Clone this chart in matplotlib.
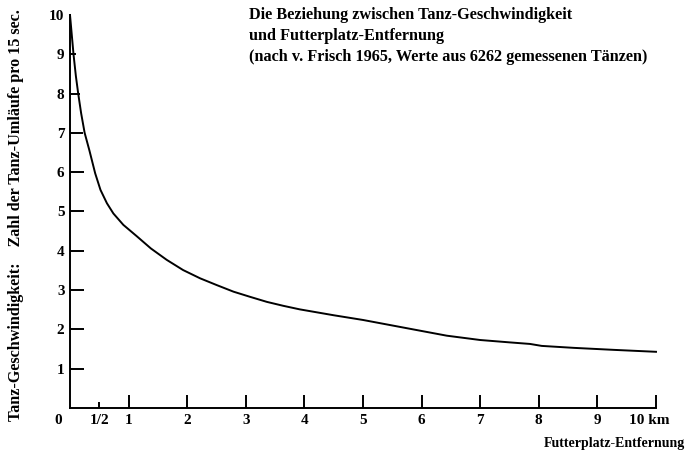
import matplotlib
matplotlib.use("Agg")
import matplotlib.pyplot as plt
from matplotlib.transforms import ScaledTranslation

plt.rcParams['font.family'] = ['Liberation Serif', 'DejaVu Serif']
plt.rcParams['font.weight'] = 'bold'

# distance to feeding place (km) and dance tempo (circuits per 15 s)
distance_km = [0.0, 0.03, 0.06, 0.1, 0.14, 0.19, 0.25, 0.33, 0.43, 0.52,
               0.63, 0.74, 0.91, 1.14, 1.38, 1.65, 1.93, 2.22, 2.5, 2.79,
               3.07, 3.36, 3.64, 3.92, 4.5, 5.0, 5.5, 6.0, 6.43, 7.0,
               7.5, 7.85, 8.05, 8.6, 9.27, 10.0]
tempo = [10.0, 9.5, 9.0, 8.45, 8.0, 7.5, 7.0, 6.56, 5.97, 5.55,
         5.21, 4.95, 4.66, 4.37, 4.06, 3.77, 3.51, 3.3, 3.13, 2.96,
         2.83, 2.7, 2.6, 2.51, 2.36, 2.24, 2.1, 1.96, 1.84, 1.73,
         1.67, 1.63, 1.58, 1.53, 1.48, 1.43]

x_ticks = [0.5, 1, 2, 3, 4, 5, 6, 7, 8, 9, 10]
x_tick_labels = ['1/2', '1', '2', '3', '4', '5', '6', '7', '8', '9', '10 km']
y_ticks = [1, 2, 3, 4, 5, 6, 7, 8, 9, 10]
y_tick_labels = [str(v) for v in y_ticks]

title_lines = ['Die Beziehung zwischen Tanz-Geschwindigkeit',
               'und Futterplatz-Entfernung',
               '(nach v. Frisch 1965, Werte aus 6262 gemessenen Tänzen)']

W, H = 695, 457
fig = plt.figure(figsize=(W / 100, H / 100), dpi=100)
ax = fig.add_axes([70 / W, 49 / H, 586 / W, 393 / H])

ax.plot(distance_km, tempo, color='black', lw=1.4, clip_on=False,
        solid_joinstyle='round')

ax.set_xlim(0, 10)
ax.set_ylim(0, 10)
for side in ('top', 'right'):
    ax.spines[side].set_visible(False)
for side in ('left', 'bottom'):
    ax.spines[side].set_linewidth(1.4)

ax.set_xticks(x_ticks)
ax.set_xticklabels(x_tick_labels)
ax.set_yticks(y_ticks)
ax.set_yticklabels(y_tick_labels)
ax.tick_params(direction='in', width=1.4, length=9.5, pad=4,
               labelsize=11, colors='black')

# shorter ticks where the curve comes close to the axis
x_len = {0.5: 4.5}
for tick, v in zip(ax.xaxis.get_major_ticks(), x_ticks):
    tick.tick1line.set_markersize(x_len.get(v, 9.5))
y_len = {7: 9.0, 8: 7.0, 9: 4.5, 10: 0}
for tick, v in zip(ax.yaxis.get_major_ticks(), y_ticks):
    tick.tick1line.set_markersize(y_len.get(v, 10))

# "10 km" sits slightly left of its tick
last = ax.get_xticklabels()[-1]
last.set_transform(last.get_transform()
                   + ScaledTranslation(-7 / 100, 0, fig.dpi_scale_trans))

ax.annotate('0', xy=(0, 0), xytext=(-12, -12), textcoords='offset pixels',
            ha='center', va='center', fontsize=11)

for i, line in enumerate(title_lines):
    fig.text(249 / W, 1 - (15 + 21 * i) / H, line, ha='left', va='center',
             fontsize=11.7)

fig.text(16 / W, 1 - 215 / H,
         'Tanz-Geschwindigkeit:    Zahl der Tanz-Umläufe pro 15 sec.',
         rotation=90, ha='center', va='center', fontsize=11.6)
fig.text(685 / W, 1 - 444 / H, 'Futterplatz-Entfernung', ha='right',
         va='center', fontsize=10)

fig.savefig('out.png', dpi=100)
